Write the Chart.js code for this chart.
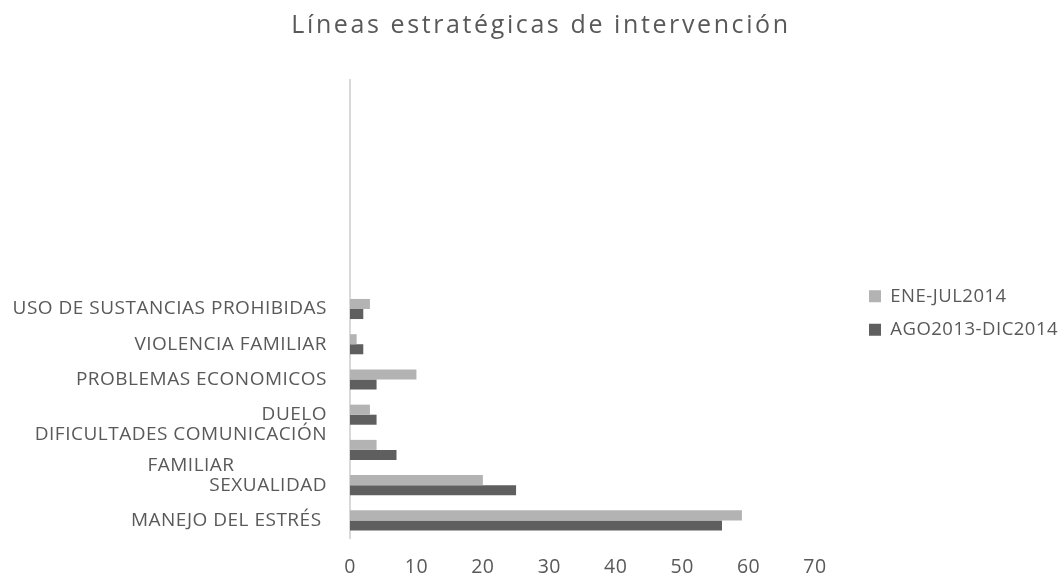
<!DOCTYPE html>
<html>
<head>
<meta charset="utf-8">
<script src="https://cdn.jsdelivr.net/npm/chart.js@4"></script>
<style>
html,body{margin:0;padding:0;background:#fff;}
#c{display:block;}
</style>
</head>
<body>
<canvas id="c" width="1064" height="573"></canvas>
<script>
const categories = ["", "", "", "", "", "",
  "USO DE SUSTANCIAS PROHIBIDAS",
  "VIOLENCIA FAMILIAR",
  "PROBLEMAS ECONOMICOS",
  "DUELO",
  ["DIFICULTADES COMUNICACIÓN", "FAMILIAR                 "],
  "SEXUALIDAD",
  "MANEJO DEL ESTRÉS "];
const seriesNames = ["ENE-JUL2014", "AGO2013-DIC2014"];
const eneJul2014 = [null, null, null, null, null, null, 3, 1, 10, 3, 4, 20, 59];
const ago2013Dic2014 = [null, null, null, null, null, null, 2, 2, 4, 4, 7, 25, 56];
const xTicks = [0, 10, 20, 30, 40, 50, 60, 70];
const titleText = "Líneas estratégicas de intervención";

const FONT = "'Open Sans', 'Noto Sans', sans-serif";
const TXT = "#595959";
const LS = '0.5px';

const spacingPlugin = {
  id: 'spacing',
  beforeLayout(chart) { chart.ctx.letterSpacing = LS; },
  beforeDraw(chart) { chart.ctx.letterSpacing = LS; },
  afterDraw(chart) {
    const ctx = chart.ctx;
    ctx.save();
    ctx.letterSpacing = '2.6px';
    ctx.font = "normal 25px " + FONT;
    ctx.fillStyle = TXT;
    ctx.textAlign = 'center';
    ctx.textBaseline = 'alphabetic';
    ctx.fillText(titleText, 541, 33);
    ctx.restore();
  }
};

new Chart(document.getElementById('c'), {
  type: 'bar',
  data: {
    labels: categories,
    datasets: [
      { label: seriesNames[0], data: eneJul2014, backgroundColor: '#b3b3b3',
        categoryPercentage: 0.57, barPercentage: 1.0 },
      { label: seriesNames[1], data: ago2013Dic2014, backgroundColor: '#5f5f5f',
        categoryPercentage: 0.57, barPercentage: 1.0 }
    ]
  },
  plugins: [spacingPlugin],
  options: {
    responsive: false,
    animation: false,
    indexAxis: 'y',
    layout: { padding: { top: 53, right: 0, bottom: 0, left: 0 } },
    plugins: {
      title: {
        display: true, text: '', fullSize: false,
        font: { size: 1, lineHeight: 1 },
        padding: { top: 13, bottom: 13 }
      },
      legend: {
        position: 'right',
        maxWidth: 210,
        labels: {
          color: TXT, font: { family: FONT, size: 18.5 },
          boxWidth: 12, boxHeight: 12, padding: 15
        }
      },
      tooltip: { enabled: false }
    },
    scales: {
      y: {
        afterFit: (s) => { s.width = 350; },
        grid: { display: false },
        border: { display: true, color: '#d9d9d9', width: 2 },
        ticks: { color: TXT, font: { family: FONT, size: 19, lineHeight: 1.6 },
                 padding: 15, autoSkip: false }
      },
      x: {
        min: 0, max: 75.87,
        afterBuildTicks: (s) => { s.ticks = xTicks.map(v => ({ value: v })); },
        afterFit: (s) => { s.height = 35; },
        grid: { display: false },
        border: { display: false },
        ticks: { color: TXT, font: { family: FONT, size: 19.5 }, padding: 10, autoSkip: false }
      }
    }
  }
});
</script>
</body>
</html>
